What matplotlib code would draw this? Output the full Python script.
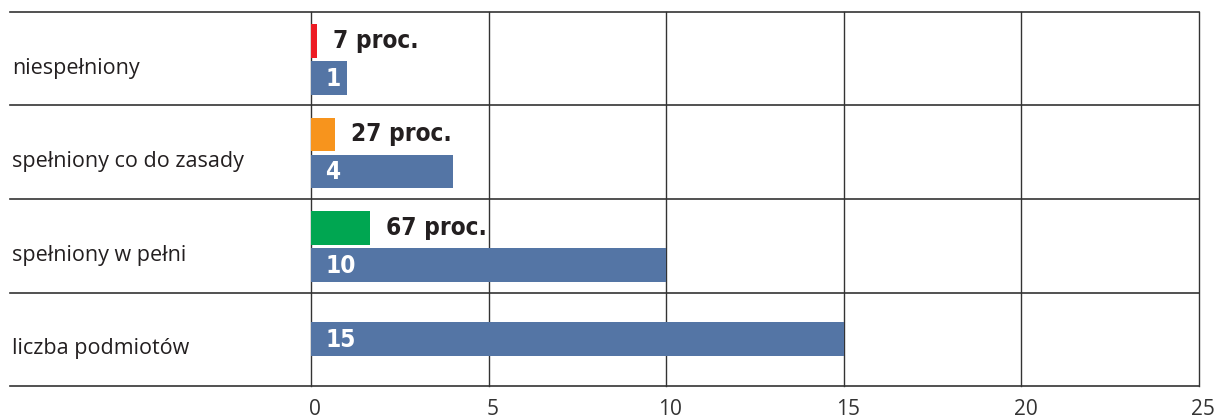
import matplotlib
matplotlib.use("Agg")
import matplotlib.pyplot as plt
import matplotlib.transforms as mtransforms

# rows top to bottom
categories = ["niespełniony", "spełniony co do zasady", "spełniony w pełni",
              "liczba podmiotów"]
counts = [1, 4, 10, 15]
percents = [7, 27, 67]           # share of the 15 entities
pct_colors = ["#ed1c24", "#f7941d", "#00a651"]
xticks = [0, 5, 10, 15, 20, 25]

BLUE = "#5475a5"
LINE = "#333333"
PCT_SCALE = 2.5 / 100            # percent bars drawn on a 0-2.5 scale
BAR_H = 0.36
BOLD = dict(fontsize=17.5, fontweight="bold", fontstretch="condensed",
            family="DejaVu Sans")

fig = plt.figure(figsize=(12.19, 4.19), dpi=100)
ax = fig.add_axes([311 / 1219, 1 - 386 / 419, 888 / 1219, 374 / 419])
ax.set_xlim(0, 25)
ax.set_ylim(len(categories), 0)

for i, (cat, n) in enumerate(zip(categories, counts)):
    if i < len(percents):
        yc, yb = i + 0.31, i + 0.705
        w = percents[i] * PCT_SCALE
        ax.barh(yc, w, height=BAR_H, color=pct_colors[i], zorder=3)
        ax.annotate(f"{percents[i]} proc.", (w, yc), xytext=(16, 0),
                    textcoords="offset pixels", va="center", ha="left",
                    color="#231f20", zorder=4, **BOLD)
    else:
        yb = i + 0.495
    ax.barh(yb, n, height=BAR_H, color=BLUE, zorder=3)
    ax.annotate(str(n), (0, yb), xytext=(14, -1), textcoords="offset pixels",
                va="center", ha="left", color="white", zorder=4, **BOLD)
    ax.text(-(311 - 12) / 888 * 25, i + 0.6, cat, va="center", ha="left",
            fontsize=15.5, color="#231f20", family="Open Sans")

# row separators run under the labels too
for y in range(len(categories) + 1):
    ax.axhline(y, xmin=-(311 - 10) / 888, xmax=1, color=LINE, lw=1.2,
               clip_on=False, zorder=2)
for x in xticks:
    ax.axvline(x, color=LINE, lw=1, clip_on=False, zorder=2)

for s in ax.spines.values():
    s.set_visible(False)
ax.set_yticks([])
ax.set_xticks(xticks)
ax.tick_params(axis="x", length=0, pad=9, labelsize=15, labelcolor="#333333")
shift = mtransforms.ScaledTranslation(4 / 100, 0, fig.dpi_scale_trans)
for lab in ax.get_xticklabels():
    lab.set_fontfamily("Open Sans")
    lab.set_transform(lab.get_transform() + shift)

fig.savefig("out.png", dpi=100)
